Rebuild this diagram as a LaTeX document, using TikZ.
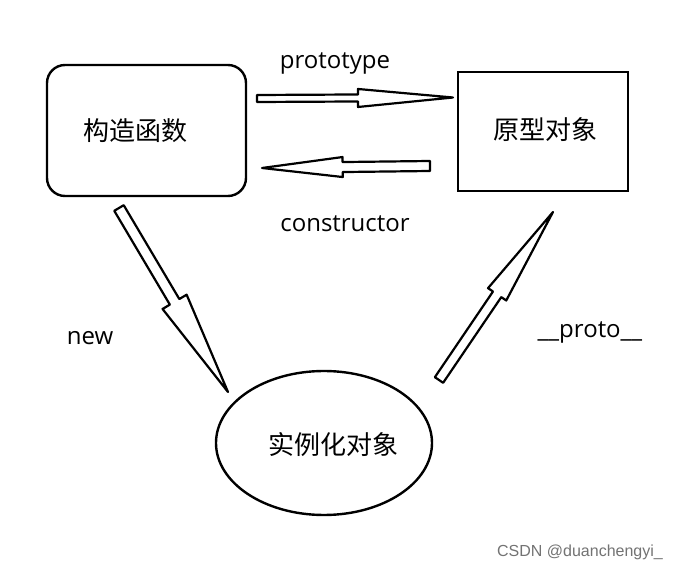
\documentclass[tikz,border=0pt]{standalone}
\usepackage{fontspec}
\setmainfont{Open Sans}
\newfontfamily\cjk{Noto Sans CJK SC}
\newfontfamily\wmfont{Liberation Sans}
\usetikzlibrary{calc,shapes.geometric}
\tikzset{
  thick line/.style={line width=2.4pt},
  lab/.style={anchor=base,inner sep=0pt,font=\fontsize{24}{28}\selectfont},
  cjklab/.style={anchor=base,inner sep=0pt,font=\cjk\fontsize{26}{30}\selectfont},
  barrow/.style={line width=2.2pt,line join=round,fill=white},
}
\newcommand\blkarrow[5]{%
  \coordinate (bam) at ($(#1)!#3!(#2)$);
  \draw[barrow] ($(#1)!#4!90:(#2)$) -- ($(bam)!#4!90:(#2)$) -- ($(bam)!#5!90:(#2)$) -- (#2)
    -- ($(bam)!#5!-90:(#2)$) -- ($(bam)!#4!-90:(#2)$) -- ($(#1)!#4!-90:(#2)$) -- cycle;
}
\begin{document}
\begin{tikzpicture}[x=1pt,y=-1pt]
\useasboundingbox[fill=white] (0,0) rectangle (681,569);
% shapes
\node[draw,thick line,rounded corners=18pt,minimum width=199pt,minimum height=131pt] (ctor) at (146.5,130.5) {};
\node[draw,thick line,minimum width=170pt,minimum height=119pt] (proto) at (543,131.5) {};
\node[draw,thick line,ellipse,minimum width=216pt,minimum height=144pt] (inst) at (324,443) {};
% texts
\node[cjklab] (t1) at (135,141) {构造函数};
\node[cjklab] (t2) at (545,140) {原型对象};
\node[cjklab] (t3) at (333,455) {实例化对象};
\node[lab] (l1) at (335,69) {prototype};
\node[lab] (l2) at (345,232) {constructor};
\node[lab] (l3) at (90,345) {new};
\node[lab] (l4) at (590,338) {\_\_proto\_\_};
\node[anchor=base,inner sep=0pt,text=black!55,font=\wmfont\fontsize{16}{18}\selectfont] (wm) at (580,557) {CSDN @duanchengyi\_};
% arrow end points
\coordinate (a1s) at (257,98.5);
\coordinate (a1e) at (453,97.5);
\coordinate (a2s) at (430,166);
\coordinate (a2e) at (262,168);
\coordinate (a3s) at (119,208);
\coordinate (a3e) at (228,392);
\coordinate (a4s) at (439,380);
\coordinate (a4e) at (553,212);
\blkarrow{a1s}{a1e}{0.515}{3.5pt}{9pt}
\blkarrow{a2s}{a2e}{0.52}{5pt}{10pt}
\blkarrow{a3s}{a3e}{0.51}{5.5pt}{14pt}
\blkarrow{a4s}{a4e}{0.51}{5pt}{11pt}
\end{tikzpicture}
\end{document}
